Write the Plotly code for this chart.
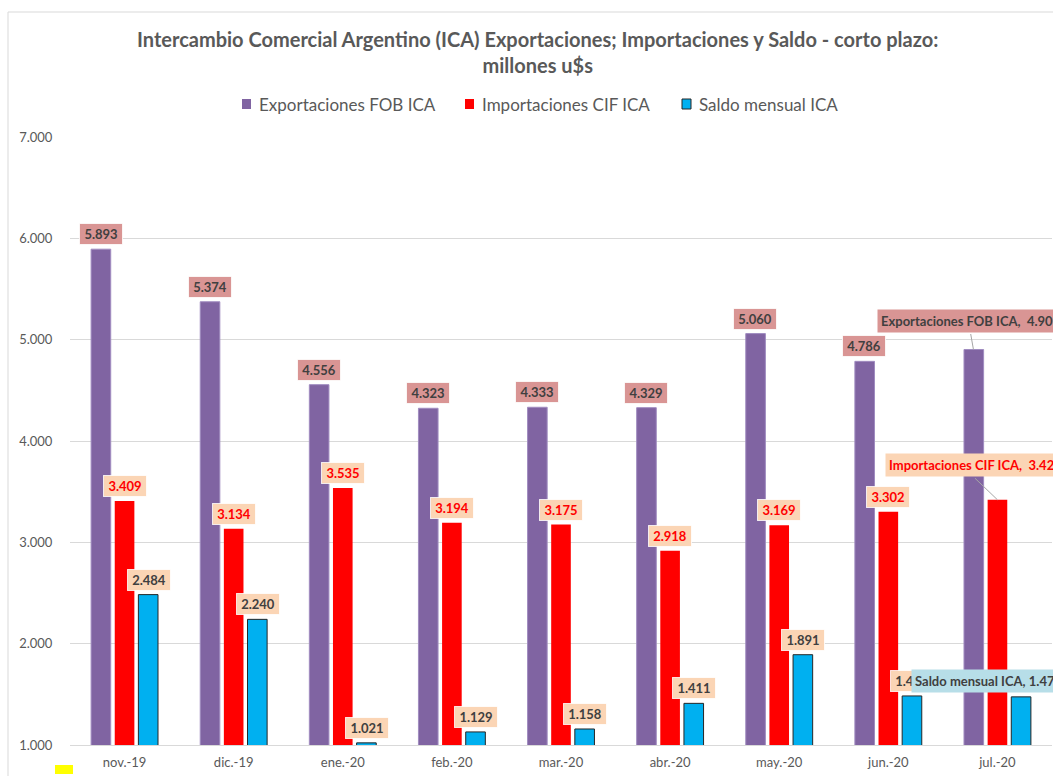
import plotly.graph_objects as go

categories = ["nov.-19", "dic.-19", "ene.-20", "feb.-20", "mar.-20", "abr.-20", "may.-20", "jun.-20", "jul.-20"]
exportaciones = [5893, 5374, 4556, 4323, 4333, 4329, 5060, 4786, 4903]
importaciones = [3409, 3134, 3535, 3194, 3175, 2918, 3169, 3302, 3420]
saldo = [2484, 2240, 1021, 1129, 1158, 1411, 1891, 1484, 1475]
series_names = ["Exportaciones FOB ICA", "Importaciones CIF ICA", "Saldo mensual ICA"]

W, H = 1053, 776
L, R, T, B = 70, 1, 137, 31
PW = W - L - R
PH = H - T - B

def px(x):
    return (x - L) / PW

def py(y):
    return (H - B - y) / PH

FONT = "Lato"
GRAY = "#595959"
DARK = "#404040"
PURPLE = "#8064A2"
RED = "#FF0000"
BLUE = "#00B0F0"
ROSE = "#D99594"
PEACH = "#FBD5B5"
LBLUE = "#B7DEE8"

def fmt(v):
    return f"{v:,}".replace(",", ".")

fig = go.Figure()
fig.add_bar(x=categories, y=exportaciones, name=series_names[0],
            marker=dict(color=PURPLE, line=dict(color="#A08CC0", width=1)))
fig.add_bar(x=categories, y=importaciones, name=series_names[1],
            marker=dict(color=RED, line=dict(color=RED, width=0)))
fig.add_bar(x=categories, y=saldo, name=series_names[2],
            marker=dict(color=BLUE, line=dict(color="#262626", width=1)))

ann = []
shift = 24
specs = [
    (exportaciones, -shift, ROSE, DARK),
    (importaciones, 0, PEACH, RED),
    (saldo, shift, PEACH, DARK),
]
n = len(categories)
for si, (vals, xs, bg, fc) in enumerate(specs):
    for i, (c, v) in enumerate(zip(categories, vals)):
        if i == n - 1:
            continue
        ann.append(dict(x=c, y=v, xref="x", yref="y", text=f"<b>{fmt(v)}</b>",
                        showarrow=False, xshift=xs, yshift=4, yanchor="bottom",
                        xanchor="center", bgcolor=bg, bordercolor="rgba(255,255,255,0.8)",
                        borderwidth=1, borderpad=2, width=38, height=16,
                        font=dict(family=FONT, size=13, color=fc)))

# special callouts for last category
last = categories[-1]
ann.append(dict(x=last, y=exportaciones[-1], xref="x", yref="y", text="",
                showarrow=True, arrowhead=0, arrowwidth=1, arrowcolor="#A6A6A6",
                ax=-3, ay=-17, xshift=-shift))
ann.append(dict(x=last, y=exportaciones[-1], xref="x", yref="y",
                text=f"<b>{series_names[0]},  {fmt(exportaciones[-1])}</b>",
                showarrow=False, xshift=-120, yshift=17, xanchor="left", yanchor="bottom",
                bgcolor=ROSE, borderpad=3, font=dict(family=FONT, size=13, color=DARK)))
ann.append(dict(x=last, y=importaciones[-1], xref="x", yref="y", text="",
                showarrow=True, arrowhead=0, arrowwidth=1, arrowcolor="#A6A6A6",
                ax=-24, ay=-23, xshift=0))
ann.append(dict(x=last, y=importaciones[-1], xref="x", yref="y",
                text=f"<b>{series_names[1]},  {fmt(importaciones[-1])}</b>",
                showarrow=False, xshift=-112, yshift=23, xanchor="left", yanchor="bottom",
                bgcolor=PEACH, borderpad=3, font=dict(family=FONT, size=13, color=RED)))
ann.append(dict(x=last, y=saldo[-1], xref="x", yref="y",
                text=f"<b>{series_names[2]}, {fmt(saldo[-1])}</b>",
                showarrow=False, xshift=-86, yshift=4, xanchor="left", yanchor="bottom",
                bgcolor=LBLUE, borderpad=3, font=dict(family=FONT, size=13, color=DARK)))

# title
ann.append(dict(x=px(537), y=py(52), xref="paper", yref="paper",
                text="<b>Intercambio Comercial Argentino (ICA) Exportaciones; Importaciones y Saldo - corto plazo:<br>millones u$s</b>",
                showarrow=False, xanchor="center", yanchor="middle",
                font=dict(family=FONT, size=20, color=GRAY)))

# legend
leg_x = [257, 480, 697]
leg_sq = [242, 465, 682]
leg_col = [PURPLE, RED, BLUE]
leg_line = [PURPLE, RED, "#262626"]
shapes = []
for name, tx, sx, col, lc in zip(series_names, leg_x, leg_sq, leg_col, leg_line):
    ann.append(dict(x=px(tx), y=py(104), xref="paper", yref="paper", text=name,
                    showarrow=False, xanchor="left", yanchor="middle",
                    font=dict(family=FONT, size=17, color=GRAY)))
    shapes.append(dict(type="rect", xref="paper", yref="paper",
                       x0=px(sx), x1=px(sx + 9), y0=py(109), y1=py(99),
                       fillcolor=col, line=dict(color=lc, width=1 if lc != col else 0)))

# chart border and yellow marker
shapes.append(dict(type="line", xref="paper", yref="paper", x0=px(8), x1=px(1060),
                   y0=py(12), y1=py(12), line=dict(color="#D9D9D9", width=1)))
shapes.append(dict(type="line", xref="paper", yref="paper", x0=px(8), x1=px(8),
                   y0=py(12), y1=py(790), line=dict(color="#D9D9D9", width=1)))
shapes.append(dict(type="rect", xref="paper", yref="paper", x0=px(55), x1=px(73),
                   y0=py(774), y1=py(765), fillcolor="#FFFF00", line=dict(width=0)))

fig.update_layout(
    width=W, height=H,
    margin=dict(l=L, r=R, t=T, b=B, pad=0),
    paper_bgcolor="white", plot_bgcolor="white",
    barmode="group", bargap=0.35, bargroupgap=0.17,
    separators=",.",
    showlegend=False,
    annotations=ann, shapes=shapes,
    font=dict(family=FONT, color=GRAY),
)
fig.update_yaxes(range=[1000, 7000], dtick=1000, tickformat=",.0f",
                 gridcolor="#D9D9D9", gridwidth=1, zeroline=False,
                 ticks="outside", ticklen=14, tickcolor="rgba(0,0,0,0)",
                 tickfont=dict(family=FONT, size=13, color=GRAY))
fig.update_xaxes(range=[-0.5, len(categories) - 0.5], autorange=False,
                 showline=True, linecolor="#D9D9D9", linewidth=1,
                 ticks="outside", ticklen=5, tickcolor="rgba(0,0,0,0)",
                 tickfont=dict(family=FONT, size=13, color=GRAY))

fig.write_html("out.html")
